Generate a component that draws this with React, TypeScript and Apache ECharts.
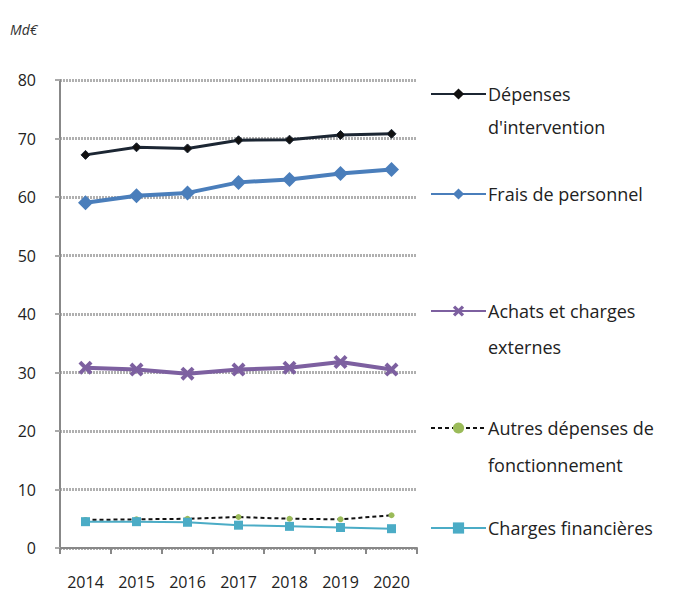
import React, { useEffect, useRef } from "react";
import * as echarts from "echarts";

const years = ["2014", "2015", "2016", "2017", "2018", "2019", "2020"];
const depensesIntervention = [67.2, 68.5, 68.3, 69.7, 69.8, 70.6, 70.8];
const fraisPersonnel = [59.0, 60.2, 60.7, 62.5, 63.0, 64.0, 64.7];
const achatsCharges = [30.8, 30.5, 29.8, 30.5, 30.8, 31.8, 30.5];
const autresDepenses = [4.8, 4.9, 5.0, 5.3, 5.0, 4.9, 5.6];
const chargesFinancieres = [4.5, 4.5, 4.4, 3.9, 3.7, 3.5, 3.3];

const names = [
  "Dépenses d'intervention",
  "Frais de personnel",
  "Achats et charges externes",
  "Autres dépenses de fonctionnement",
  "Charges financières",
];
const firstLines = ["Dépenses", "Frais de personnel", "Achats et charges", "Autres dépenses de", "Charges financières"];
const secondLines = ["d'intervention", "", "externes", "fonctionnement", ""];

const FONT = "Open Sans";
const X_SYMBOL = "path://M2,0 L5,3 L8,0 L10,2 L7,5 L10,8 L8,10 L5,7 L2,10 L0,8 L3,5 L0,2 Z";

export default function App() {
  const ref = useRef<HTMLDivElement>(null);
  useEffect(() => {
    document.body.style.margin = "0";
    const chart = echarts.init(ref.current!, null, { renderer: "svg" });
    const legendCenters = [97, 197, 314, 431, 531];
    const secondY = [131, 0, 351, 469, 0];
    const legends = names.map((n, i) => ({
      data: [n],
      left: 430,
      top: legendCenters[i] - 12,
      padding: 0,
      itemWidth: 55,
      itemHeight: 14,
      itemGap: 0,
      formatter: () => firstLines[i],
      textStyle: { fontFamily: FONT, fontSize: 18, color: "#222", padding: [0, 0, 0, -3] },
    }));
    const graphics: any[] = secondLines
      .map((t, i) => ({ t, i }))
      .filter((o) => o.t)
      .map((o) => ({
        type: "text",
        left: 488,
        top: secondY[o.i] - 13,
        style: { text: o.t, fontFamily: FONT, fontSize: 18, fill: "#222" },
      }));
    graphics.push({
      type: "text",
      left: 10,
      top: 22,
      style: { text: "Md€", fontFamily: FONT, fontSize: 14, fontStyle: "italic", fill: "#333" },
    });

    chart.setOption({
      animation: false,
      backgroundColor: "#fff",
      grid: { left: 60, right: 281, top: 80, bottom: 51, containLabel: false },
      legend: legends,
      graphic: graphics,
      xAxis: {
        type: "category",
        data: years,
        boundaryGap: true,
        axisLine: { lineStyle: { color: "#888", width: 2 } },
        axisTick: { show: true, length: 6, lineStyle: { color: "#888", width: 2 } },
        axisLabel: { fontFamily: FONT, fontSize: 16, color: "#222", margin: 26 },
      },
      yAxis: {
        type: "value",
        min: 0,
        max: 80,
        interval: 10,
        axisLine: { show: true, lineStyle: { color: "#888", width: 2 } },
        axisTick: { show: true, length: 5, lineStyle: { color: "#aaa", width: 2 } },
        axisLabel: { fontFamily: FONT, fontSize: 16, color: "#222", margin: 24 },
        splitLine: { lineStyle: { color: "#b0b0b0", width: 3, type: [2, 1] } },
      },
      series: [
        {
          name: names[0],
          type: "line",
          data: depensesIntervention,
          lineStyle: { color: "#1c2633", width: 3 },
          itemStyle: { color: "#111", borderColor: "#1c2633" },
          symbol: "diamond",
          symbolSize: 9,
        },
        {
          name: names[1],
          type: "line",
          data: fraisPersonnel,
          lineStyle: { color: "#4a7ebb", width: 4 },
          itemStyle: { color: "#4a7ebb" },
          symbol: "diamond",
          symbolSize: 15,
        },
        {
          name: names[2],
          type: "line",
          data: achatsCharges,
          lineStyle: { color: "#7d60a0", width: 4 },
          itemStyle: { color: "#7d60a0" },
          symbol: X_SYMBOL,
          symbolSize: 14,
        },
        {
          name: names[3],
          type: "line",
          data: autresDepenses,
          lineStyle: { color: "#111", width: 2, type: [4, 3] },
          itemStyle: { color: "#9bbb59" },
          symbol: "circle",
          symbolSize: 6,
          z: 3,
        },
        {
          name: names[4],
          type: "line",
          data: chargesFinancieres,
          lineStyle: { color: "#4bacc6", width: 2 },
          itemStyle: { color: "#4bacc6" },
          symbol: "rect",
          symbolSize: 9,
        },
      ],
    });
    return () => chart.dispose();
  }, []);
  return <div ref={ref} style={{ width: 698, height: 599 }} />;
}
